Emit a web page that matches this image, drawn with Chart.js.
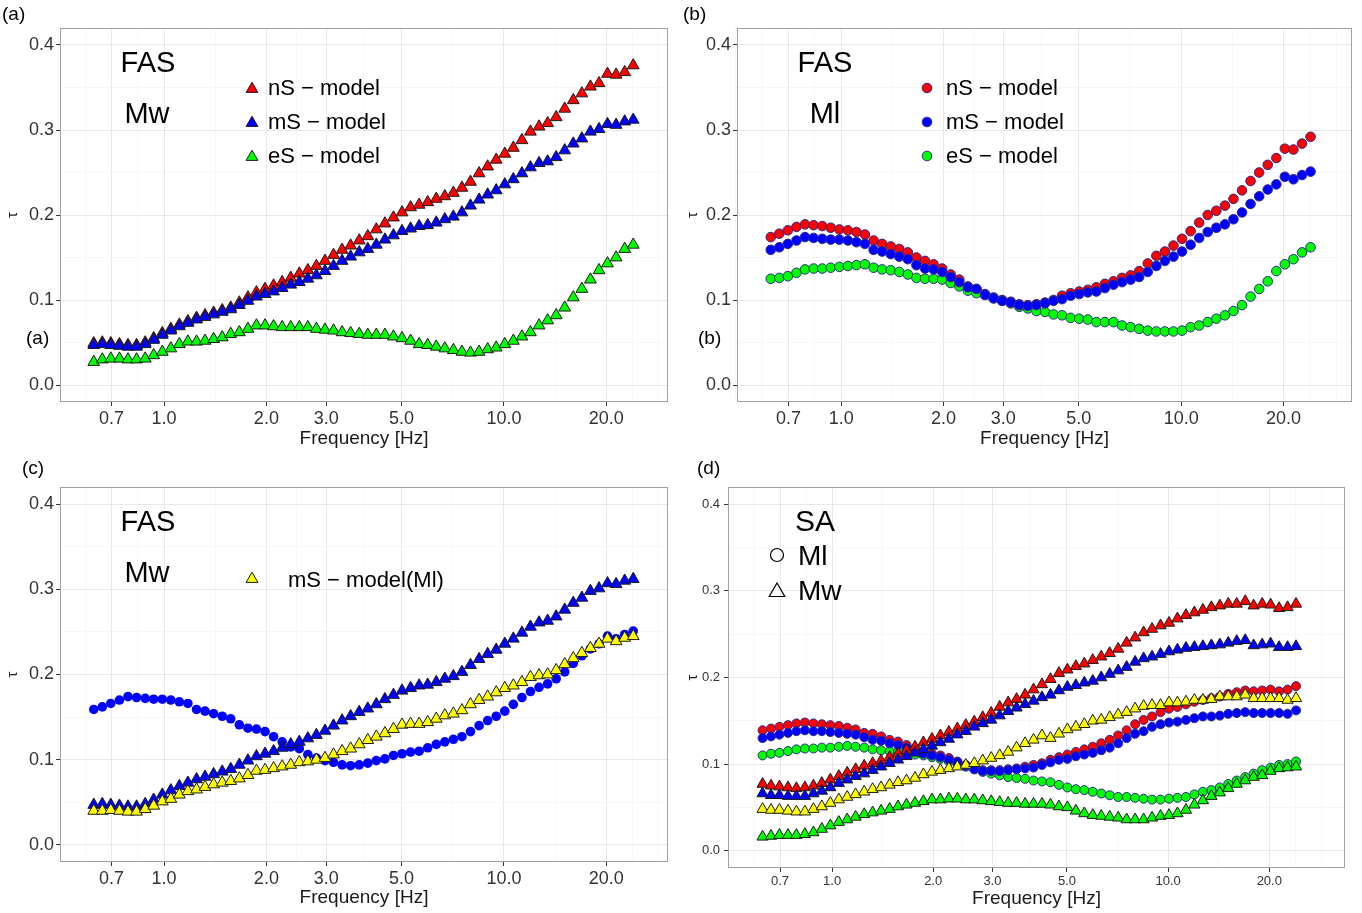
<!DOCTYPE html>
<html>
<head>
<meta charset="utf-8">
<script src="https://cdn.jsdelivr.net/npm/chart.js@4.4.0/dist/chart.umd.min.js"></script>
<style>
  body { margin: 0; background: #fff; width: 1362px; height: 913px; position: relative; overflow: hidden;
         font-family: 'Liberation Sans', Arial, Helvetica, sans-serif; }
  canvas { position: absolute; }
  .t { position: absolute; color: #000; white-space: nowrap; line-height: 1; }
  .c { transform: translate(-50%, -50%); }
  .l { transform: translate(0, -50%); }
</style>
</head>
<body>
<canvas id="pa" width="680" height="455" style="left:0;top:0"></canvas>
<canvas id="pb" width="682" height="455" style="left:680px;top:0"></canvas>
<canvas id="pc" width="680" height="458" style="left:0;top:455px"></canvas>
<canvas id="pd" width="682" height="458" style="left:680px;top:455px"></canvas>

<div class="t" style="left:2px;top:4px;font-size:19px">(a)</div>
<div class="t" style="left:26px;top:328px;font-size:19px">(a)</div>
<div class="t c" style="left:148px;top:62px;font-size:29px">FAS</div>
<div class="t c" style="left:147px;top:113px;font-size:29px">Mw</div>
<div class="t l" style="left:268px;top:88px;font-size:22px">nS − model</div>
<div class="t l" style="left:268px;top:122px;font-size:22px">mS − model</div>
<div class="t l" style="left:268px;top:156px;font-size:22px">eS − model</div>

<div class="t" style="left:683px;top:4px;font-size:19px">(b)</div>
<div class="t" style="left:698px;top:328px;font-size:19px">(b)</div>
<div class="t c" style="left:825px;top:62px;font-size:29px">FAS</div>
<div class="t c" style="left:825px;top:113px;font-size:29px">Ml</div>
<div class="t l" style="left:946px;top:88px;font-size:22px">nS − model</div>
<div class="t l" style="left:946px;top:122px;font-size:22px">mS − model</div>
<div class="t l" style="left:946px;top:156px;font-size:22px">eS − model</div>

<div class="t" style="left:22px;top:458px;font-size:19px">(c)</div>
<div class="t c" style="left:148px;top:521px;font-size:29px">FAS</div>
<div class="t c" style="left:147px;top:572px;font-size:29px">Mw</div>
<div class="t l" style="left:288px;top:580px;font-size:22px">mS − model(Ml)</div>

<div class="t" style="left:697px;top:458px;font-size:19px">(d)</div>
<div class="t c" style="left:815px;top:521px;font-size:30px">SA</div>
<div class="t l" style="left:798px;top:556px;font-size:28px">Ml</div>
<div class="t l" style="left:798px;top:591px;font-size:28px">Mw</div>

<script>
// frequencies [Hz]
const freq = [0.621, 0.658, 0.697, 0.739, 0.783, 0.830, 0.880, 0.932, 0.988, 1.047,
  1.109, 1.175, 1.246, 1.320, 1.399, 1.483, 1.571, 1.665, 1.765, 1.870,
  1.982, 2.100, 2.226, 2.359, 2.500, 2.649, 2.807, 2.975, 3.153, 3.341,
  3.540, 3.752, 3.976, 4.213, 4.465, 4.732, 5.014, 5.314, 5.631, 5.967,
  6.324, 6.701, 7.101, 7.525, 7.975, 8.453, 8.958, 9.493, 10.06, 10.66,
  11.30, 11.97, 12.69, 13.45, 14.25, 15.10, 16.00, 16.96, 17.97, 19.05,
  20.18, 21.39, 22.67, 24.02];

const freqTicks = [0.7, 1, 2, 3, 5, 10, 20];
const freqMinor = [0.49, 0.586, 0.837, 1.414, 2.449, 3.873, 7.07, 14.14, 23.9, 28.6];
const tauTicks = [0, 0.1, 0.2, 0.3, 0.4];
const tauMinor = [0.05, 0.15, 0.25, 0.35];

// FAS, Mw (triangles)
const fasMwNS = [0.049, 0.050, 0.049, 0.048, 0.047, 0.047, 0.050, 0.055, 0.061, 0.066,
  0.071, 0.075, 0.079, 0.082, 0.085, 0.088, 0.091, 0.097, 0.103, 0.109,
  0.113, 0.117, 0.121, 0.126, 0.131, 0.135, 0.140, 0.146, 0.153, 0.159,
  0.164, 0.170, 0.175, 0.183, 0.190, 0.197, 0.203, 0.209, 0.212, 0.215,
  0.219, 0.222, 0.226, 0.232, 0.239, 0.249, 0.257, 0.265, 0.272, 0.279,
  0.288, 0.298, 0.304, 0.308, 0.315, 0.325, 0.335, 0.343, 0.351, 0.355,
  0.366, 0.365, 0.368, 0.376];
const fasMwMS = [0.047, 0.048, 0.047, 0.046, 0.045, 0.045, 0.048, 0.053, 0.059, 0.064,
  0.069, 0.073, 0.077, 0.080, 0.083, 0.086, 0.089, 0.094, 0.099, 0.104,
  0.107, 0.110, 0.114, 0.118, 0.121, 0.125, 0.129, 0.134, 0.140, 0.146,
  0.151, 0.156, 0.160, 0.165, 0.171, 0.176, 0.181, 0.184, 0.187, 0.188,
  0.191, 0.195, 0.198, 0.203, 0.211, 0.218, 0.224, 0.229, 0.236, 0.242,
  0.249, 0.256, 0.261, 0.263, 0.268, 0.276, 0.284, 0.290, 0.298, 0.301,
  0.307, 0.306, 0.310, 0.312];
const fasMwES = [0.027, 0.030, 0.031, 0.031, 0.030, 0.030, 0.031, 0.035, 0.039, 0.043,
  0.048, 0.051, 0.051, 0.052, 0.054, 0.056, 0.060, 0.062, 0.066, 0.070,
  0.070, 0.069, 0.068, 0.068, 0.068, 0.068, 0.066, 0.065, 0.064, 0.062,
  0.061, 0.060, 0.059, 0.059, 0.059, 0.057, 0.055, 0.052, 0.048, 0.047,
  0.045, 0.043, 0.041, 0.039, 0.038, 0.039, 0.042, 0.044, 0.048, 0.052,
  0.057, 0.062, 0.070, 0.076, 0.082, 0.091, 0.103, 0.113, 0.124, 0.135,
  0.143, 0.150, 0.160, 0.165];
// FAS, mS-model(Ml) on Mw (yellow triangles, panel c)
const fasMwMSMl = [0.040, 0.040, 0.041, 0.040, 0.039, 0.039, 0.042, 0.046, 0.051, 0.054,
  0.059, 0.063, 0.065, 0.068, 0.071, 0.073, 0.075, 0.078, 0.082, 0.087,
  0.088, 0.090, 0.092, 0.094, 0.097, 0.098, 0.100, 0.102, 0.106, 0.110,
  0.113, 0.118, 0.123, 0.127, 0.131, 0.136, 0.141, 0.142, 0.142, 0.144,
  0.148, 0.152, 0.154, 0.158, 0.165, 0.170, 0.174, 0.179, 0.184, 0.187,
  0.191, 0.197, 0.199, 0.200, 0.205, 0.212, 0.219, 0.225, 0.231, 0.236,
  0.242, 0.239, 0.243, 0.245];

// FAS, Ml (circles)
const fasMlNS = [0.174, 0.178, 0.182, 0.186, 0.189, 0.188, 0.187, 0.185, 0.183, 0.182,
  0.180, 0.177, 0.170, 0.166, 0.163, 0.160, 0.156, 0.150, 0.146, 0.142,
  0.137, 0.130, 0.124, 0.116, 0.113, 0.107, 0.103, 0.100, 0.098, 0.095,
  0.094, 0.095, 0.097, 0.100, 0.105, 0.108, 0.110, 0.112, 0.115, 0.119,
  0.122, 0.126, 0.129, 0.134, 0.143, 0.152, 0.157, 0.164, 0.172, 0.181,
  0.191, 0.200, 0.205, 0.211, 0.219, 0.229, 0.240, 0.250, 0.259, 0.267,
  0.278, 0.277, 0.284, 0.292];
const fasMlMS = [0.159, 0.162, 0.166, 0.170, 0.174, 0.173, 0.172, 0.171, 0.171, 0.170,
  0.168, 0.166, 0.159, 0.157, 0.154, 0.151, 0.148, 0.141, 0.137, 0.136,
  0.133, 0.127, 0.121, 0.115, 0.113, 0.106, 0.102, 0.099, 0.097, 0.094,
  0.093, 0.094, 0.096, 0.099, 0.101, 0.105, 0.107, 0.109, 0.110, 0.114,
  0.118, 0.121, 0.124, 0.127, 0.133, 0.140, 0.146, 0.151, 0.157, 0.165,
  0.173, 0.180, 0.185, 0.189, 0.195, 0.203, 0.213, 0.222, 0.230, 0.236,
  0.245, 0.242, 0.247, 0.251];
const fasMlES = [0.125, 0.126, 0.128, 0.132, 0.136, 0.137, 0.137, 0.138, 0.139, 0.140,
  0.141, 0.142, 0.138, 0.136, 0.135, 0.133, 0.130, 0.126, 0.125, 0.125,
  0.124, 0.120, 0.116, 0.111, 0.108, 0.106, 0.102, 0.099, 0.096, 0.092,
  0.090, 0.087, 0.086, 0.083, 0.082, 0.079, 0.078, 0.077, 0.074, 0.074,
  0.074, 0.070, 0.068, 0.066, 0.064, 0.063, 0.063, 0.063, 0.064, 0.068,
  0.070, 0.074, 0.078, 0.082, 0.087, 0.094, 0.104, 0.113, 0.122, 0.134,
  0.142, 0.148, 0.156, 0.162];

// SA, Mw (triangles)
const saMwNS = [0.077, 0.075, 0.074, 0.073, 0.072, 0.073, 0.075, 0.078, 0.082, 0.086,
  0.090, 0.094, 0.098, 0.101, 0.104, 0.108, 0.112, 0.116, 0.120, 0.125,
  0.129, 0.133, 0.137, 0.141, 0.145, 0.149, 0.154, 0.159, 0.166, 0.171,
  0.175, 0.180, 0.186, 0.192, 0.198, 0.205, 0.209, 0.213, 0.216, 0.220,
  0.224, 0.228, 0.233, 0.240, 0.246, 0.252, 0.256, 0.260, 0.263, 0.268,
  0.272, 0.275, 0.278, 0.281, 0.283, 0.285, 0.285, 0.288, 0.283, 0.285,
  0.284, 0.280, 0.281, 0.285];
const saMwMS = [0.066, 0.064, 0.064, 0.063, 0.063, 0.063, 0.066, 0.069, 0.073, 0.078,
  0.082, 0.086, 0.089, 0.093, 0.097, 0.101, 0.105, 0.109, 0.113, 0.117,
  0.121, 0.125, 0.129, 0.134, 0.138, 0.143, 0.147, 0.151, 0.156, 0.161,
  0.165, 0.169, 0.173, 0.177, 0.180, 0.185, 0.189, 0.191, 0.194, 0.196,
  0.200, 0.204, 0.208, 0.212, 0.218, 0.222, 0.224, 0.227, 0.230, 0.232,
  0.234, 0.235, 0.236, 0.237, 0.238, 0.240, 0.242, 0.243, 0.237, 0.238,
  0.239, 0.235, 0.235, 0.236];
const saMwES = [0.016, 0.017, 0.018, 0.018, 0.018, 0.019, 0.021, 0.025, 0.029, 0.033,
  0.036, 0.039, 0.042, 0.044, 0.046, 0.048, 0.051, 0.053, 0.055, 0.057,
  0.059, 0.059, 0.060, 0.060, 0.059, 0.059, 0.058, 0.057, 0.056, 0.055,
  0.055, 0.054, 0.054, 0.054, 0.053, 0.051, 0.050, 0.046, 0.043, 0.041,
  0.040, 0.039, 0.038, 0.036, 0.036, 0.036, 0.038, 0.040, 0.041, 0.043,
  0.047, 0.053, 0.058, 0.063, 0.067, 0.072, 0.077, 0.081, 0.085, 0.087,
  0.092, 0.095, 0.096, 0.097];
const saMwMSMl = [0.048, 0.047, 0.047, 0.046, 0.045, 0.045, 0.048, 0.051, 0.055, 0.059,
  0.062, 0.065, 0.068, 0.071, 0.073, 0.076, 0.079, 0.081, 0.084, 0.088,
  0.091, 0.093, 0.095, 0.097, 0.099, 0.101, 0.104, 0.107, 0.110, 0.114,
  0.119, 0.124, 0.128, 0.133, 0.130, 0.135, 0.140, 0.143, 0.146, 0.150,
  0.151, 0.154, 0.157, 0.160, 0.164, 0.167, 0.168, 0.168, 0.171, 0.171,
  0.172, 0.174, 0.174, 0.175, 0.178, 0.178, 0.178, 0.180, 0.176, 0.176,
  0.176, 0.176, 0.174, 0.176];

// SA, Ml (circles)
const saMlNS = [0.139, 0.141, 0.143, 0.145, 0.147, 0.148, 0.147, 0.146, 0.145, 0.144,
  0.142, 0.140, 0.136, 0.135, 0.132, 0.128, 0.126, 0.122, 0.118, 0.114,
  0.112, 0.110, 0.107, 0.103, 0.099, 0.095, 0.093, 0.093, 0.093, 0.094,
  0.095, 0.097, 0.099, 0.101, 0.105, 0.108, 0.111, 0.114, 0.117, 0.120,
  0.124, 0.128, 0.133, 0.139, 0.146, 0.151, 0.155, 0.160, 0.164, 0.166,
  0.169, 0.172, 0.174, 0.176, 0.178, 0.181, 0.183, 0.185, 0.184, 0.185,
  0.186, 0.184, 0.186, 0.190];
const saMlMS = [0.130, 0.132, 0.134, 0.136, 0.138, 0.139, 0.138, 0.138, 0.137, 0.136,
  0.135, 0.134, 0.131, 0.128, 0.127, 0.124, 0.122, 0.119, 0.116, 0.112,
  0.110, 0.108, 0.105, 0.102, 0.098, 0.094, 0.092, 0.092, 0.092, 0.093,
  0.094, 0.095, 0.096, 0.099, 0.102, 0.105, 0.106, 0.109, 0.111, 0.113,
  0.116, 0.119, 0.124, 0.130, 0.135, 0.138, 0.143, 0.146, 0.148, 0.149,
  0.151, 0.153, 0.155, 0.155, 0.156, 0.158, 0.159, 0.160, 0.159, 0.159,
  0.159, 0.159, 0.158, 0.162];
const saMlES = [0.110, 0.112, 0.113, 0.115, 0.117, 0.118, 0.118, 0.119, 0.119, 0.120,
  0.121, 0.120, 0.119, 0.117, 0.116, 0.115, 0.114, 0.113, 0.111, 0.110,
  0.108, 0.106, 0.103, 0.100, 0.097, 0.094, 0.091, 0.089, 0.087, 0.085,
  0.084, 0.083, 0.081, 0.080, 0.079, 0.076, 0.073, 0.071, 0.070, 0.068,
  0.066, 0.064, 0.062, 0.062, 0.061, 0.060, 0.059, 0.059, 0.060, 0.061,
  0.062, 0.065, 0.068, 0.070, 0.073, 0.077, 0.081, 0.085, 0.089, 0.093,
  0.096, 0.099, 0.100, 0.103];

const RED = '#ff0000', BLUE = '#0000ff', GREEN = '#00ff00', YELLOW = '#ffff00';
const TRI_EDGE = '#1a1a1a', DOT_EDGE = '#2a2a8a';

Chart.defaults.font.family = "'Liberation Sans', Arial, Helvetica, sans-serif";

function series(vals, style, fill, edge, r, order) {
  return {
    data: freq.map((f, i) => ({ x: f, y: vals[i] })),
    pointStyle: style,
    pointRadius: r,
    pointHoverRadius: r,
    backgroundColor: fill,
    borderColor: edge || fill,
    borderWidth: edge ? 1 : 0,
    showLine: false,
    order: order
  };
}

const isMajorF = v => freqTicks.includes(v);
const isMajorT = v => tauTicks.includes(v);

function gridOpts(isMajor) {
  return {
    color: c => (c.tick && isMajor(c.tick.value)) ? '#e8e8e8' : '#f3f3f3',
    lineWidth: c => (c.tick && isMajor(c.tick.value)) ? 1 : 0.7,
    tickColor: c => (c.tick && isMajor(c.tick.value)) ? '#333' : 'rgba(0,0,0,0)',
    tickLength: 4,
    tickWidth: 1
  };
}

// draws the panel border and the in-plot legend symbols
const framePlugin = {
  id: 'frame',
  afterDraw(chart, args, opts) {
    const ctx = chart.ctx, a = chart.chartArea;
    ctx.save();
    ctx.strokeStyle = opts.color || '#999';
    ctx.lineWidth = 1;
    ctx.strokeRect(Math.round(a.left) + 0.5, Math.round(a.top) + 0.5,
      Math.round(a.right - a.left) - 1, Math.round(a.bottom - a.top) - 1);
    (opts.marks || []).forEach(m => {
      ctx.beginPath();
      if (m.style === 'triangle') {
        ctx.moveTo(m.x, m.y - m.r);
        ctx.lineTo(m.x + m.r * 0.866, m.y + m.r / 2);
        ctx.lineTo(m.x - m.r * 0.866, m.y + m.r / 2);
        ctx.closePath();
      } else {
        ctx.arc(m.x, m.y, m.r, 0, Math.PI * 2);
      }
      ctx.fillStyle = m.fill;
      ctx.fill();
      ctx.strokeStyle = m.edge;
      ctx.lineWidth = m.lw || 1;
      ctx.stroke();
    });
    ctx.restore();
  }
};

function makeChart(id, p) {
  new Chart(document.getElementById(id), {
    type: 'scatter',
    data: { datasets: p.datasets },
    options: {
      responsive: false,
      animation: false,
      events: [],
      layout: { padding: { left: 0, right: p.padRight, top: p.padTop, bottom: 0 } },
      plugins: {
        legend: { display: false },
        tooltip: { enabled: false },
        frame: { color: '#a0a0a0', marks: p.marks }
      },
      scales: {
        x: {
          type: 'logarithmic',
          min: p.xMin, max: p.xMax,
          bounds: 'data',
          afterBuildTicks: s => {
            s.ticks = freqTicks.concat(freqMinor).sort((a, b) => a - b).map(v => ({ value: v }));
          },
          afterFit: s => { s.height = p.xHeight; },
          border: { display: false },
          grid: gridOpts(isMajorF),
          ticks: {
            autoSkip: false, maxRotation: 0, minRotation: 0,
            padding: p.xTickPad, color: '#333',
            font: { size: p.tickSize },
            callback: v => isMajorF(v) ? v.toFixed(1) : ''
          },
          title: {
            display: true, text: 'Frequency [Hz]', color: '#1a1a1a',
            font: { size: 19 }, padding: { top: 0, bottom: p.xTitlePad }
          }
        },
        y: {
          type: 'linear',
          min: -0.02, max: 0.42,
          afterBuildTicks: s => {
            s.ticks = tauTicks.concat(tauMinor).sort((a, b) => a - b).map(v => ({ value: v }));
          },
          afterFit: s => { s.width = p.yWidth; },
          border: { display: false },
          grid: gridOpts(isMajorT),
          ticks: {
            padding: p.yTickPad, color: '#333',
            font: { size: p.tickSize },
            callback: v => isMajorT(v) ? v.toFixed(1) : ''
          },
          title: {
            display: true, text: 'τ', color: '#1a1a1a',
            font: { size: 15 }, padding: { top: 4, bottom: 0 }
          }
        }
      }
    },
    plugins: [framePlugin]
  });
}

// (a) FAS Mw
makeChart('pa', {
  padTop: 28, padRight: 12, yWidth: 60, xHeight: 53,
  xMin: 0.494, xMax: 30.4, tickSize: 18, xTickPad: 2, yTickPad: 2, xTitlePad: 5,
  datasets: [
    series(fasMwNS, 'triangle', RED, TRI_EDGE, 6.8, 3),
    series(fasMwMS, 'triangle', BLUE, TRI_EDGE, 6.8, 2),
    series(fasMwES, 'triangle', GREEN, TRI_EDGE, 6.8, 1)
  ],
  marks: [
    { style: 'triangle', x: 252, y: 89, r: 6.8, fill: RED, edge: TRI_EDGE },
    { style: 'triangle', x: 252, y: 123, r: 6.8, fill: BLUE, edge: TRI_EDGE },
    { style: 'triangle', x: 252, y: 157, r: 6.8, fill: GREEN, edge: TRI_EDGE }
  ]
});

// (b) FAS Ml
makeChart('pb', {
  padTop: 28, padRight: 10, yWidth: 57, xHeight: 53,
  xMin: 0.494, xMax: 31.8, tickSize: 18, xTickPad: 2, yTickPad: 2, xTitlePad: 5,
  datasets: [
    series(fasMlNS, 'circle', RED, DOT_EDGE, 4.8, 3),
    series(fasMlES, 'circle', GREEN, DOT_EDGE, 4.8, 2),
    series(fasMlMS, 'circle', BLUE, DOT_EDGE, 4.8, 1)
  ],
  marks: [
    { style: 'circle', x: 247, y: 88, r: 4.8, fill: RED, edge: DOT_EDGE },
    { style: 'circle', x: 247, y: 122, r: 4.8, fill: BLUE, edge: DOT_EDGE },
    { style: 'circle', x: 247, y: 156, r: 4.8, fill: GREEN, edge: DOT_EDGE }
  ]
});

// (c) FAS Mw with mS-model(Ml)
makeChart('pc', {
  padTop: 32, padRight: 12, yWidth: 60, xHeight: 51,
  xMin: 0.494, xMax: 30.4, tickSize: 18, xTickPad: 2, yTickPad: 2, xTitlePad: 4,
  datasets: [
    series(fasMlMS, 'circle', BLUE, null, 4.8, 3),
    series(fasMwMS, 'triangle', BLUE, TRI_EDGE, 6.8, 2),
    series(fasMwMSMl, 'triangle', YELLOW, TRI_EDGE, 6.8, 1)
  ],
  marks: [
    { style: 'triangle', x: 252, y: 124, r: 6.8, fill: YELLOW, edge: TRI_EDGE }
  ]
});

// (d) SA
makeChart('pd', {
  padTop: 32, padRight: 17, yWidth: 48, xHeight: 45,
  xMin: 0.49, xMax: 33.6, tickSize: 13, xTickPad: 2, yTickPad: 4, xTitlePad: 3,
  datasets: [
    series(saMlNS, 'circle', RED, DOT_EDGE, 4.5, 7),
    series(saMlES, 'circle', GREEN, DOT_EDGE, 4.5, 6),
    series(saMlMS, 'circle', BLUE, DOT_EDGE, 4.5, 5),
    series(saMwNS, 'triangle', RED, TRI_EDGE, 6.5, 4),
    series(saMwMS, 'triangle', BLUE, TRI_EDGE, 6.5, 3),
    series(saMwMSMl, 'triangle', YELLOW, TRI_EDGE, 6.5, 2),
    series(saMwES, 'triangle', GREEN, TRI_EDGE, 6.5, 1)
  ],
  marks: [
    { style: 'circle', x: 97, y: 100, r: 6.5, fill: 'rgba(0,0,0,0)', edge: '#000', lw: 1.2 },
    { style: 'triangle', x: 97, y: 137, r: 9, fill: 'rgba(0,0,0,0)', edge: '#000', lw: 1.2 }
  ]
});
</script>
</body>
</html>
